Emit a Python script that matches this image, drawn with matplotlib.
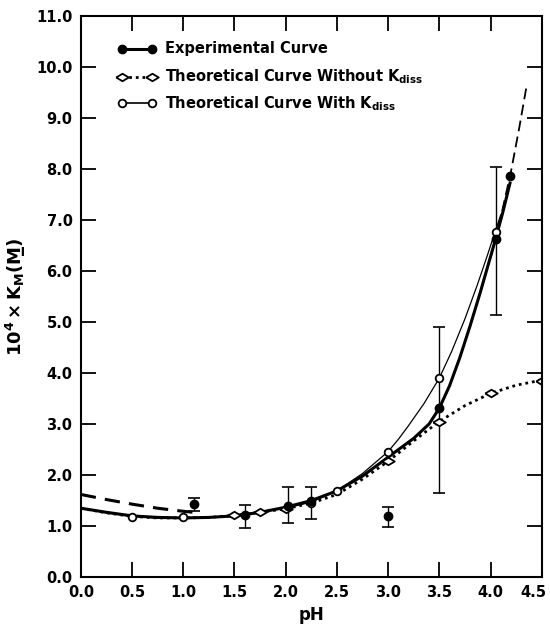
import matplotlib.pyplot as plt
import matplotlib.transforms as mtransforms
import numpy as np

# experimental points (filled), with error bars
exp_ph = [1.1, 1.6, 2.02, 2.25, 3.0, 3.5, 4.05, 4.19]
exp_val = [1.43, 1.22, 1.40, 1.50, 1.20, 3.31, 6.63, 7.85]
exp_lo = [1.30, 0.97, 1.06, 1.14, 0.99, 1.65, 5.14, np.nan]
exp_hi = [1.55, 1.41, 1.77, 1.77, 1.38, 4.91, 8.04, np.nan]

# theoretical points without K_diss (diamonds)
noK_ph = [1.5, 1.75, 2.0, 3.0, 3.5, 4.0, 4.5]
noK_val = [1.21, 1.27, 1.33, 2.27, 3.03, 3.60, 3.85]

# theoretical points with K_diss (open circles)
withK_ph = [0.5, 1.0, 2.25, 2.5, 3.0, 3.5, 4.05]
withK_val = [1.17, 1.17, 1.46, 1.69, 2.46, 3.90, 6.77]

# curves
exp_curve_ph = [0.0, 0.25, 0.5, 0.75, 1.0, 1.25, 1.5, 1.75, 2.0, 2.25, 2.5, 2.75,
                3.0, 3.25, 3.4, 3.5, 3.6, 3.7, 3.8, 3.9, 4.0, 4.05, 4.12, 4.19]
exp_curve_val = [1.35, 1.27, 1.20, 1.17, 1.16, 1.17, 1.20, 1.27, 1.37, 1.50, 1.69, 1.98,
                 2.35, 2.72, 3.00, 3.31, 3.75, 4.30, 4.92, 5.58, 6.28, 6.63, 7.15, 7.72]

noK_curve_ph = [0.0, 0.25, 0.5, 0.75, 1.0, 1.25, 1.5, 1.75, 2.0, 2.25, 2.5, 2.75,
                3.0, 3.25, 3.5, 3.75, 4.0, 4.25, 4.5]
noK_curve_val = [1.35, 1.26, 1.19, 1.16, 1.16, 1.17, 1.21, 1.27, 1.34, 1.45, 1.62, 1.92,
                 2.27, 2.67, 3.05, 3.36, 3.60, 3.76, 3.86]

withK_curve_ph = [0.0, 0.25, 0.5, 0.75, 1.0, 1.25, 1.5, 1.75, 2.0, 2.25, 2.5, 2.75,
                  3.0, 3.1, 3.2, 3.35, 3.5, 3.62, 3.75, 3.87, 3.97, 4.05, 4.1]
withK_curve_val = [1.35, 1.26, 1.19, 1.16, 1.16, 1.17, 1.21, 1.27, 1.35, 1.47, 1.69, 2.03,
                   2.46, 2.70, 2.97, 3.40, 3.90, 4.42, 5.06, 5.72, 6.31, 6.80, 7.10]

# dashed extrapolations
dash_left_ph = [0.0, 0.25, 0.5, 0.75, 1.0, 1.15]
dash_left_val = [1.62, 1.52, 1.43, 1.35, 1.29, 1.26]
dash_right_ph = [4.0, 4.1, 4.2, 4.28, 4.35]
dash_right_val = [6.25, 7.05, 7.95, 8.80, 9.60]

diamond = [(-1, 0), (0, 0.6), (1, 0), (0, -0.6), (-1, 0)]

fig = plt.figure(figsize=(5.5, 6.28), dpi=100)
ax = fig.add_axes([0.147, 0.081, 0.838, 0.894])

ax.plot(exp_curve_ph, exp_curve_val, color="black", lw=2.2)
ax.plot(withK_curve_ph, withK_curve_val, color="black", lw=0.9)
ax.plot(noK_curve_ph, noK_curve_val, color="black", lw=2.0, ls=(0, (1, 1.4)))
ax.plot(dash_left_ph, dash_left_val, color="black", lw=2.2, ls=(0, (5, 3)))
ax.plot(dash_right_ph, dash_right_val, color="black", lw=1.3, ls=(0, (6, 3)))

yerr = [np.array(exp_val) - np.array(exp_lo), np.array(exp_hi) - np.array(exp_val)]
ax.errorbar(exp_ph, exp_val, yerr=yerr, fmt="o", color="black", ms=6,
            elinewidth=1.0, capsize=4, capthick=1.2)
ax.plot(noK_ph, noK_val, ls="none", marker=diamond, ms=9, mfc="white",
        mec="black", mew=1.3)
ax.plot(withK_ph, withK_val, ls="none", marker="o", ms=5.5, mfc="white",
        mec="black", mew=1.3)

# legend drawn by hand to keep markers at both ends of the line sample
leg_x0, leg_x1, leg_tx = 0.4, 0.69, 0.82
rows = [10.35, 9.8, 9.28]
ax.plot([leg_x0, leg_x1], [rows[0]] * 2, color="black", lw=2.2, marker="o", ms=6)
ax.plot([leg_x0, leg_x1], [rows[1]] * 2, color="black", lw=2.0, ls=(0, (1, 1.4)),
        marker=diamond, ms=9, mfc="white", mec="black", mew=1.3)
ax.plot([leg_x0, leg_x1], [rows[2]] * 2, color="black", lw=1.2, marker="o", ms=5.5,
        mfc="white", mec="black", mew=1.3)
labels = ["Experimental Curve",
          r"Theoretical Curve Without K$_{\mathbf{diss}}$",
          r"Theoretical Curve With K$_{\mathbf{diss}}$"]
for y, lab in zip(rows, labels):
    ax.text(leg_tx, y, lab, fontsize=10.5, fontweight="bold", va="center")

ax.set_xlim(0, 4.5)
ax.set_ylim(0, 11)
ax.set_xticks(np.arange(0, 4.51, 0.5))
ax.set_yticks(np.arange(0, 11.01, 1.0))
ax.set_xticklabels([f"{v:.1f}" for v in np.arange(0, 4.51, 0.5)])
ax.set_yticklabels([f"{v:.1f}" for v in np.arange(0, 11.01, 1.0)])
ax.tick_params(direction="in", length=11, width=1.3, top=True, right=True,
               labelsize=10.5, pad=6)
for lab in ax.get_xticklabels() + ax.get_yticklabels():
    lab.set_fontweight("bold")
# last x label would run off the right edge
last = ax.get_xticklabels()[-1]
last.set_transform(last.get_transform()
                   + mtransforms.ScaledTranslation(-6 / 72, 0, fig.dpi_scale_trans))
for sp in ax.spines.values():
    sp.set_linewidth(1.5)

ax.set_xlabel("pH", fontsize=12, fontweight="bold", labelpad=4)
ax.set_ylabel(r"$\mathbf{10^4\times K_M}$(M̲)", fontsize=13, fontweight="bold",
              labelpad=6)

fig.savefig("out.png", dpi=100)
